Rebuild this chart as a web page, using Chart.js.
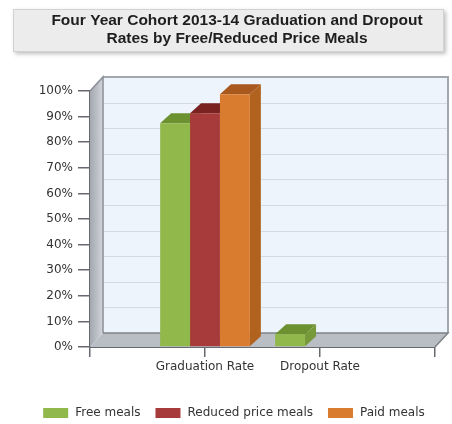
<!DOCTYPE html>
<html>
<head>
<meta charset="utf-8">
<script src="https://cdn.jsdelivr.net/npm/chart.js@4.4.1/dist/chart.umd.min.js"></script>
<style>
  html, body { margin: 0; padding: 0; background: #ffffff; }
  #wrap { width: 452px; height: 424px; }
</style>
</head>
<body>
<div id="wrap"><canvas id="c" width="452" height="424"></canvas></div>
<script>
// ---- data ----
const titleLines = ['Four Year Cohort 2013-14 Graduation and Dropout', 'Rates by Free/Reduced Price Meals'];
const categories = ['Graduation Rate', 'Dropout Rate'];
const seriesNames = ['Free meals', 'Reduced price meals', 'Paid meals'];
const freeMeals = [87.4, 5.0];
const reducedMeals = [91.3, 0];
const paidMeals = [98.7, 0];
const yMin = 0, yMax = 100, yStep = 10;

// ---- styling ----
const frontColors = ['#90b84a', '#a73a3a', '#d97c30'];
const topColors = ['#6c9131', '#7a2222', '#a9591d'];
const sideColors = ['#76993a', '#842a2a', '#b2621f'];

// category axis with empty end slots (as in the reference axis)
const labels = [''].concat(categories, ['']);
function pad(arr) { return [null].concat(arr, [null]); }
const seriesValues = [freeMeals, reducedMeals, paidMeals];

const WDX = 13, WDY = 14;   // wall depth
const BDX = 11, BDY = 10;   // bar depth

const FONT = "'DejaVu Sans', Verdana, sans-serif";
const TITLE_FONT = "bold 15.5px 'Liberation Sans', Arial, sans-serif";
const LEGEND_FONT = "12px 'DejaVu Sans', Verdana, sans-serif";

const threeD = {
  id: 'threeD',
  beforeDraw(chart) {
    const ctx = chart.ctx;
    ctx.save();
    // title box
    ctx.shadowColor = 'rgba(0,0,0,0.25)';
    ctx.shadowBlur = 4;
    ctx.shadowOffsetX = 2;
    ctx.shadowOffsetY = 2;
    ctx.fillStyle = '#ececec';
    ctx.fillRect(13, 9, 431, 43);
    ctx.shadowColor = 'transparent';
    ctx.strokeStyle = '#d2d2d2';
    ctx.lineWidth = 1;
    ctx.strokeRect(13.5, 9.5, 430, 42);
    // title text
    ctx.fillStyle = '#1e1e1e';
    ctx.font = TITLE_FONT;
    ctx.textAlign = 'center';
    ctx.textBaseline = 'middle';
    titleLines.forEach((t, i) => ctx.fillText(t, 237, 21 + i * 18));
    ctx.restore();
  },
  beforeDatasetsDraw(chart) {
    const ctx = chart.ctx;
    const { left, right, top, bottom } = chart.chartArea;
    const ys = chart.scales.y;
    ctx.save();
    // back wall
    ctx.fillStyle = '#eef4fb';
    ctx.fillRect(left + WDX, top - WDY, right - left, bottom - top);
    // grid lines on back wall
    ctx.strokeStyle = '#d4dae3';
    ctx.lineWidth = 1;
    ys.ticks.forEach(t => {
      const y = Math.round(ys.getPixelForValue(t.value) - WDY) + 0.5;
      ctx.beginPath();
      ctx.moveTo(left + WDX, y);
      ctx.lineTo(right + WDX, y);
      ctx.stroke();
    });
    // wall frame
    ctx.strokeStyle = '#a3a7ad';
    ctx.lineWidth = 2;
    ctx.beginPath();
    ctx.moveTo(left + WDX, top - WDY);
    ctx.lineTo(right + WDX, top - WDY);
    ctx.lineTo(right + WDX, bottom - WDY);
    ctx.stroke();
    // left side wall
    const g = ctx.createLinearGradient(left, 0, left + WDX, 0);
    g.addColorStop(0, '#a3a7af');
    g.addColorStop(1, '#d2d5da');
    ctx.fillStyle = g;
    ctx.beginPath();
    ctx.moveTo(left, top);
    ctx.lineTo(left + WDX, top - WDY);
    ctx.lineTo(left + WDX, bottom - WDY);
    ctx.lineTo(left, bottom);
    ctx.closePath();
    ctx.fill();
    ctx.strokeStyle = '#8b8f95';
    ctx.lineWidth = 1.5;
    ctx.beginPath();
    ctx.moveTo(left, top);
    ctx.lineTo(left + WDX, top - WDY);
    ctx.lineTo(left + WDX, bottom - WDY);
    ctx.stroke();
    // floor
    ctx.fillStyle = '#b9bdc4';
    ctx.beginPath();
    ctx.moveTo(left, bottom);
    ctx.lineTo(left + WDX, bottom - WDY);
    ctx.lineTo(right + WDX, bottom - WDY);
    ctx.lineTo(right, bottom);
    ctx.closePath();
    ctx.fill();
    ctx.strokeStyle = '#7e8288';
    ctx.lineWidth = 1.5;
    ctx.beginPath();
    ctx.moveTo(left + WDX, bottom - WDY);
    ctx.lineTo(right + WDX, bottom - WDY);
    ctx.lineTo(right, bottom);
    ctx.stroke();
    // bar tops and sides (front faces are drawn by Chart.js afterwards)
    const n = labels.length;
    for (let idx = 0; idx < n; idx++) {
      chart.data.datasets.forEach((ds, di) => {
        const v = ds.data[idx];
        if (v === null || v === undefined || v <= 0) return;
        const el = chart.getDatasetMeta(di).data[idx];
        const x0 = el.x - el.width / 2, x1 = el.x + el.width / 2;
        const yt = el.y, yb = el.base;
        ctx.fillStyle = topColors[di];
        ctx.beginPath();
        ctx.moveTo(x0, yt);
        ctx.lineTo(x0 + BDX, yt - BDY);
        ctx.lineTo(x1 + BDX, yt - BDY);
        ctx.lineTo(x1, yt);
        ctx.closePath();
        ctx.fill();
        ctx.fillStyle = sideColors[di];
        ctx.beginPath();
        ctx.moveTo(x1, yt);
        ctx.lineTo(x1 + BDX, yt - BDY);
        ctx.lineTo(x1 + BDX, yb - BDY);
        ctx.lineTo(x1, yb);
        ctx.closePath();
        ctx.fill();
      });
    }
    ctx.restore();
  },
  afterDraw(chart) {
    // legend row
    const ctx = chart.ctx;
    ctx.save();
    ctx.font = LEGEND_FONT;
    ctx.textBaseline = 'middle';
    ctx.textAlign = 'left';
    const boxW = 25, boxH = 10, gapText = 7, gapItem = 15, cy = 413;
    const items = chart.data.datasets.map(ds => ({ text: ds.label, color: ds.backgroundColor, w: ctx.measureText(ds.label).width }));
    let total = 0;
    items.forEach((it, i) => { total += boxW + gapText + it.w + (i < items.length - 1 ? gapItem : 0); });
    let x = 234 - total / 2;
    items.forEach(it => {
      ctx.fillStyle = it.color;
      ctx.fillRect(x, cy - boxH / 2, boxW, boxH);
      ctx.fillStyle = '#333333';
      ctx.fillText(it.text, x + boxW + gapText, cy);
      x += boxW + gapText + it.w + gapItem;
    });
    ctx.restore();
  }
};

new Chart(document.getElementById('c'), {
  type: 'bar',
  data: {
    labels: labels,
    datasets: seriesNames.map((name, i) => ({
      label: name,
      data: pad(seriesValues[i]),
      backgroundColor: frontColors[i],
      borderWidth: 0,
      categoryPercentage: 0.78,
      barPercentage: 1.0
    }))
  },
  options: {
    responsive: false,
    animation: false,
    devicePixelRatio: 1,
    layout: { padding: { left: 0, right: 17, top: 91, bottom: 45 } },
    plugins: {
      tooltip: { enabled: false },
      title: { display: false },
      legend: { display: false }
    },
    scales: {
      x: {
        type: 'category',
        offset: false,
        grid: { display: true, offset: false, drawOnChartArea: false, drawTicks: true, tickLength: 10, color: '#666a70', lineWidth: 1.5 },
        border: { display: true, color: '#666a70', width: 2 },
        ticks: { color: '#333333', font: { family: FONT, size: 12 }, padding: 3, maxRotation: 0, autoSkip: false },
        afterFit(s) { s.height = 32; }
      },
      y: {
        min: yMin,
        max: yMax,
        grid: { display: true, drawOnChartArea: false, drawTicks: true, tickLength: 12, color: '#666a70', lineWidth: 1.5 },
        border: { display: true, color: '#666a70', width: 2 },
        ticks: {
          stepSize: yStep,
          color: '#333333',
          font: { family: FONT, size: 12 },
          padding: 5,
          callback: v => v + '%'
        },
        afterFit(s) { s.width = 90; }
      }
    }
  },
  plugins: [threeD]
});
</script>
</body>
</html>
